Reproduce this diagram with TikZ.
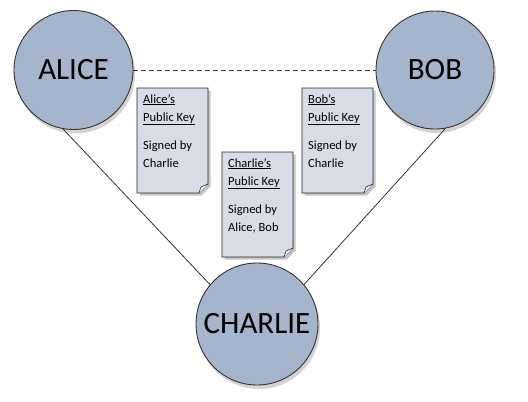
\documentclass[tikz,border=0pt]{standalone}
\usepackage{fontspec}
\setmainfont{Carlito}
\usetikzlibrary{positioning,shadows}

\definecolor{partyblue}{HTML}{A5B5CC}
\definecolor{keypaper}{HTML}{D6DDE7}

\tikzset{
  party/.style={circle,draw=black!80,line width=0.9pt,fill=partyblue,inner sep=0pt,
    font=\fontsize{31}{33}\selectfont,
    drop shadow={opacity=0.35,shadow xshift=2pt,shadow yshift=-4pt}},
  keypage/.style={draw=black!85,line width=0.8pt,fill=keypaper,
    drop shadow={opacity=0.45,shadow xshift=2.5pt,shadow yshift=-2.5pt}},
  keytext/.style={align=left,anchor=north west,inner sep=0pt,
    font=\fontsize{12.5}{18}\selectfont},
}

\begin{document}
\begin{tikzpicture}[x=1pt,y=-1pt]
  \useasboundingbox (0,0) rectangle (528,402);

  \node[party,minimum size=119pt] (alice) at (73.5,70) {ALICE};
  \node[party,minimum size=118pt] (bob) at (435,70) {BOB};
  \node[party,minimum size=122pt] (charlie) at (257,324) {CHARLIE};

  \draw[black!80,line width=0.8pt] (alice.-100) -- (charlie.140);
  \draw[black!80,line width=0.8pt] (bob.-80) -- (charlie.40);
  \draw[black!80,line width=0.8pt,dash pattern=on 5pt off 3pt] (alice.east) -- (bob.west);

  \foreach \n/\x/\y/\who/\by in {alice/137/88/Alice’s/Charlie, bob/302/88/Bob’s/Charlie, charlie/222/152/Charlie’s/{Alice, Bob}}{
    \draw[keypage] (\x,\y) -- ({\x+71},\y) -- ({\x+71},{\y+96}) -- ({\x+62},{\y+105}) -- (\x,{\y+105}) -- cycle;
    \draw[black!85,line width=0.6pt,fill=white] ({\x+71},{\y+96}) -- ({\x+64},{\y+99}) -- ({\x+62},{\y+105});
    \node[keytext] (\n key) at ({\x+6},{\y+6}) {\underline{\who}\\\underline{Public Key}\\[10pt]Signed by\\\by};
  }
\end{tikzpicture}
\end{document}
